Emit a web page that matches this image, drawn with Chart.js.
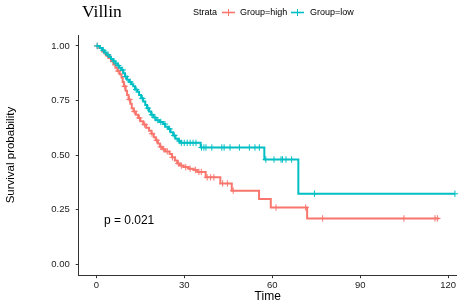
<!DOCTYPE html>
<html><head><meta charset="utf-8">
<script src="https://cdn.jsdelivr.net/npm/chart.js@4.4.0/dist/chart.umd.min.js"></script>
<style>html,body{margin:0;padding:0;background:#fff;}#wrap{width:471px;height:307px;}</style>
</head><body><div id="wrap"><canvas id="c" width="471" height="307"></canvas></div>
<script>
const titleText = 'Villin';
const strataLabel = 'Strata';
const groupNames = ['Group=high', 'Group=low'];
const groupColors = ['#F8766D', '#00BFC4'];
const xTicks = [0, 30, 60, 90, 120];
const yTicks = [0, 0.25, 0.5, 0.75, 1];
const xTitle = 'Time';
const yTitle = 'Survival probability';
const pValueText = 'p = 0.021';

const highTimes = [0,1.0,2.0,2.8,3.5,4.2,5.0,5.8,6.5,7.2,8.0,8.6,9.0,9.4,10.0,10.5,11.0,11.6,12.1,12.7,13.5,14.3,15.0,16.0,17.0,18.0,18.8,19.6,20.3,21.0,21.7,22.5,23.5,25.0,25.8,26.8,27.6,28.5,29.7,31.5,33.2,34.5,37.3,42.3,46.2,55.5,59.5,71.9,116.9];
const highSurv  = [1.0,0.99,0.975,0.965,0.955,0.945,0.93,0.915,0.90,0.885,0.87,0.855,0.835,0.815,0.795,0.775,0.755,0.735,0.715,0.70,0.685,0.67,0.655,0.64,0.625,0.612,0.598,0.582,0.568,0.553,0.538,0.527,0.517,0.505,0.49,0.475,0.462,0.452,0.445,0.438,0.432,0.423,0.398,0.37,0.337,0.299,0.26,0.21,0.21];
const lowTimes = [0,1.2,2.0,2.8,3.5,4.3,5.0,5.8,6.5,7.2,7.8,8.5,9.2,9.8,10.5,11.2,12.0,12.6,13.2,14.0,14.6,15.3,16.0,16.7,17.3,18.0,18.7,19.5,20.3,21.5,22.8,23.5,24.5,25.3,26.2,27.0,28.0,28.8,35.6,57.3,68.9,122.3];
const lowSurv  = [1.0,0.99,0.98,0.97,0.96,0.95,0.94,0.93,0.92,0.91,0.90,0.89,0.875,0.86,0.845,0.835,0.825,0.815,0.80,0.79,0.775,0.76,0.745,0.73,0.715,0.70,0.685,0.672,0.66,0.652,0.642,0.63,0.62,0.605,0.59,0.575,0.565,0.556,0.535,0.48,0.323,0.323];

const highCensorTimes = [0.3,4.0,7.5,9.7,11.3,13.0,14.7,16.5,19.0,20.6,22.0,23.0,24.2,26.0,28.0,29.0,30.5,32.0,33.8,35.0,35.8,37.8,39.0,40.1,43.1,44.7,46.7,61.3,71.4,77.2,104.9,115.5,116.3];
const lowCensorTimes = [0.3,2.4,4.0,6.0,7.5,9.0,10.0,11.6,13.6,15.7,17.6,19.0,20.0,21.0,22.0,23.4,25.0,26.6,28.3,29.0,30.0,31.0,32.0,33.0,34.0,35.9,36.7,37.4,39.4,42.8,43.6,45.6,48.8,52.2,54.1,55.6,57.8,60.6,63.0,63.5,64.7,66.6,74.4,122.3];

function stepValue(times, surv, t) {
  let v = surv[0];
  for (let i = 0; i < times.length; i++) { if (times[i] <= t) v = surv[i]; else break; }
  return v;
}
function curvePoints(times, surv) { return times.map((t, i) => ({x: t, y: surv[i]})); }
function censorPoints(times, surv, cts) { return cts.map(t => ({x: t, y: stepValue(times, surv, t)})); }

const FONT = '"Liberation Sans", Arial, sans-serif';

const headerPlugin = {
  id: 'header',
  afterDraw(chart) {
    const ctx = chart.ctx;
    ctx.save();
    ctx.fillStyle = '#000';
    ctx.font = '17.5px "Liberation Serif", "Times New Roman", serif';
    ctx.textBaseline = 'alphabetic';
    ctx.textAlign = 'left';
    ctx.fillText(titleText, 82, 16.5);
    ctx.font = '9px ' + FONT;
    ctx.textBaseline = 'middle';
    ctx.fillText(strataLabel, 193, 12.5);
    const items = [[222, 240], [291, 310]];
    items.forEach((p, i) => {
      ctx.strokeStyle = groupColors[i];
      ctx.lineWidth = 1.6;
      ctx.beginPath(); ctx.moveTo(p[0], 12.5); ctx.lineTo(p[0] + 13, 12.5); ctx.stroke();
      ctx.lineWidth = 1;
      ctx.beginPath(); ctx.moveTo(p[0] + 6.5, 9); ctx.lineTo(p[0] + 6.5, 16); ctx.stroke();
      ctx.fillStyle = '#000';
      ctx.fillText(groupNames[i], p[1], 12.5);
    });
    const xs = chart.scales.x, ys = chart.scales.y;
    ctx.font = '12px ' + FONT;
    ctx.fillStyle = '#000';
    ctx.fillText(pValueText, xs.getPixelForValue(2.6), ys.getPixelForValue(0.2));
    ctx.restore();
  }
};

const datasets = [
  {label: groupNames[1], data: curvePoints(lowTimes, lowSurv), borderColor: groupColors[1], borderWidth: 2, stepped: 'before', pointRadius: 0, fill: false, clip: false, order: 1},
  {label: groupNames[0], data: curvePoints(highTimes, highSurv), borderColor: groupColors[0], borderWidth: 2, stepped: 'before', pointRadius: 0, fill: false, clip: false, order: 2},
  {label: 'censor low', data: censorPoints(lowTimes, lowSurv, lowCensorTimes), showLine: false, pointStyle: 'cross', pointRadius: 3.2, pointBorderWidth: 1, pointBorderColor: groupColors[1], clip: false, order: 0},
  {label: 'censor high', data: censorPoints(highTimes, highSurv, highCensorTimes), showLine: false, pointStyle: 'cross', pointRadius: 3.2, pointBorderWidth: 1, pointBorderColor: groupColors[0], clip: false, order: 1.5}
];

new Chart(document.getElementById('c'), {
  type: 'line',
  data: {datasets},
  plugins: [headerPlugin],
  options: {
    responsive: false, animation: false, devicePixelRatio: 1,
    layout: {padding: {top: 35, right: 14.3, left: 0, bottom: 0}},
    plugins: {legend: {display: false}, tooltip: {enabled: false}, title: {display: false}},
    scales: {
      x: {
        type: 'linear', min: -6, max: 122.9,
        afterBuildTicks: s => { s.ticks = xTicks.map(v => ({value: v})); },
        afterFit: s => { s.height = 31.8; },
        ticks: {color: '#222', font: {size: 9.5, family: FONT}, padding: 1, maxRotation: 0},
        grid: {drawOnChartArea: false, drawTicks: true, tickLength: 3, color: '#333'},
        border: {display: true, color: '#333', width: 1},
        title: {display: true, text: xTitle, color: '#000', font: {size: 12, family: FONT}, padding: {top: 0, bottom: 3}}
      },
      y: {
        type: 'linear', min: -0.05, max: 1.05,
        afterBuildTicks: s => { s.ticks = yTicks.map(v => ({value: v})); },
        afterFit: s => { s.width = 78.7; },
        ticks: {color: '#222', font: {size: 9.5, family: FONT}, padding: 6, callback: v => Number(v).toFixed(2)},
        grid: {drawOnChartArea: false, drawTicks: true, tickLength: 3, color: '#333'},
        border: {display: true, color: '#333', width: 1},
        title: {display: true, text: yTitle, color: '#000', font: {size: 11.5, family: FONT}, padding: {top: 4, bottom: 0}}
      }
    }
  }
});
</script></body></html>
